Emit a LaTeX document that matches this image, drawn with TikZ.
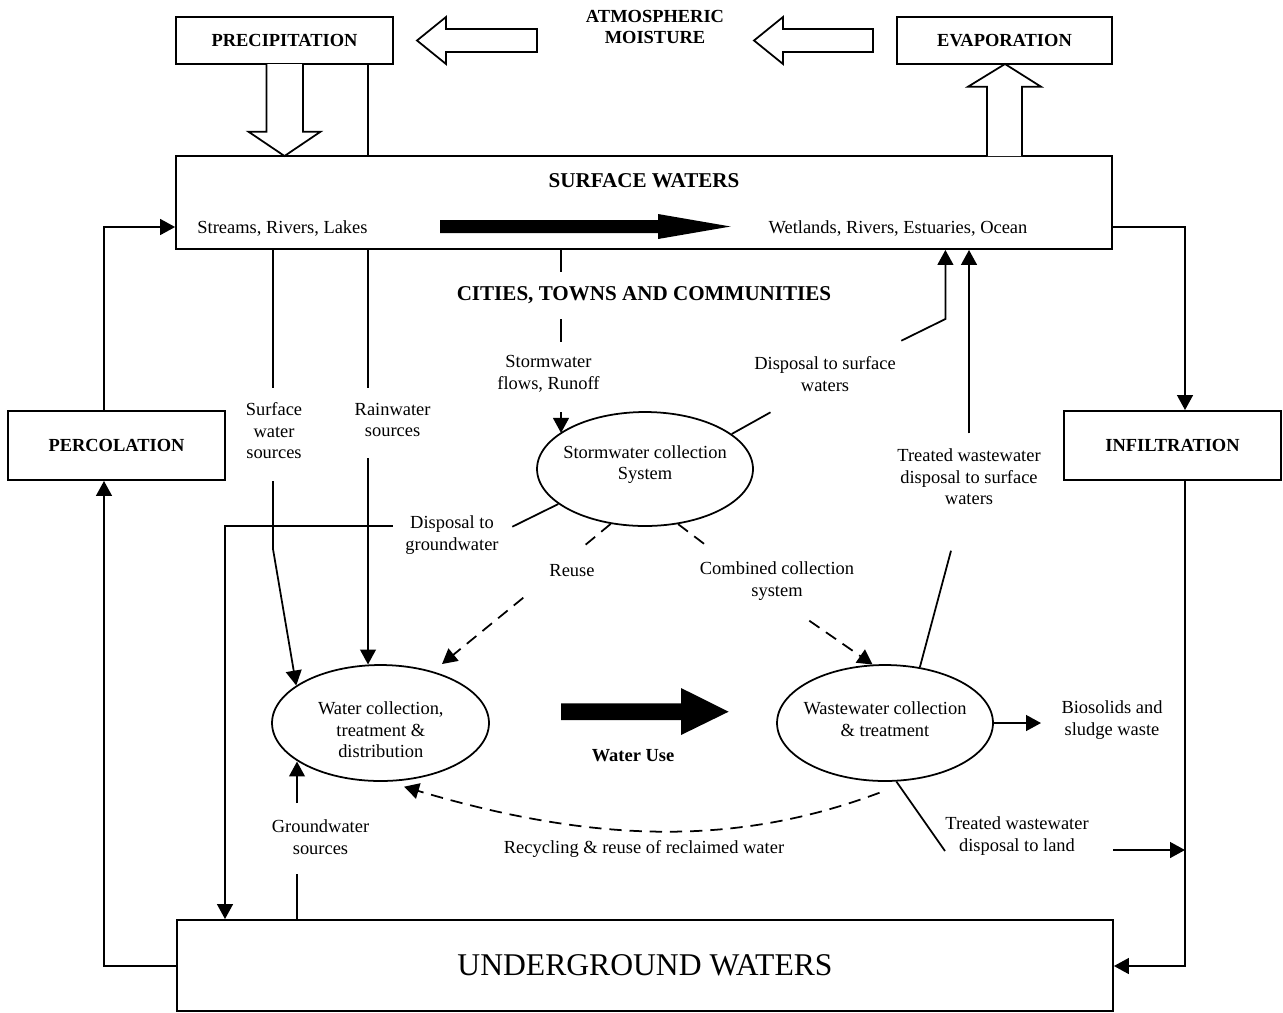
\documentclass[tikz,border=0pt]{standalone}
\usepackage{fontspec}
\setmainfont{Liberation Serif}
\usetikzlibrary{arrows.meta,shapes.geometric}

\tikzset{
  flow/.style={line width=1pt,-{Triangle[length=8.5pt,width=9pt]}},
  plain/.style={line width=1pt},
  dashflow/.style={line width=1pt,dash pattern=on 7pt off 4.5pt,-{Triangle[length=8.5pt,width=9pt]}},
  dashplain/.style={line width=1pt,dash pattern=on 7pt off 4.5pt},
  boxframe/.style={draw,line width=1.1pt,inner sep=0pt,align=center},
  cell/.style={draw,ellipse,line width=1pt,inner sep=0pt},
  lbl/.style={align=center,inner sep=0pt,font=\fontsize{10.5}{12.2}\selectfont},
  hd/.style={align=center,inner sep=0pt,font=\fontsize{10.5}{12.3}\selectfont\bfseries},
  hdl/.style={align=center,inner sep=0pt,font=\fontsize{12}{14}\selectfont\bfseries},
  hollow/.style={draw,line width=1pt,fill=white,line join=miter},
}

\begin{document}
\begin{tikzpicture}[x=0.02cm,y=-0.02cm]
\useasboundingbox (0,0) rectangle (1283,1012);

% ---------- boxes ----------
\node[boxframe,minimum width=4.34cm,minimum height=0.94cm,font=\fontsize{10.5}{12}\selectfont\bfseries] (precip) at (284.5,40.5) {PRECIPITATION};
\node[boxframe,minimum width=4.30cm,minimum height=0.94cm,font=\fontsize{10.5}{12}\selectfont\bfseries] (evap) at (1004.5,40.5) {EVAPORATION};
\node[boxframe,minimum width=18.72cm,minimum height=1.86cm] (surf) at (644,202.5) {};
\node[boxframe,minimum width=4.34cm,minimum height=1.38cm,font=\fontsize{10.5}{12}\selectfont\bfseries] (perc) at (116.5,445.5) {PERCOLATION};
\node[boxframe,minimum width=4.34cm,minimum height=1.38cm,font=\fontsize{10.5}{12}\selectfont\bfseries] (infil) at (1172.5,445.5) {INFILTRATION};
\node[boxframe,minimum width=18.72cm,minimum height=1.82cm,font=\fontsize{18}{20}\selectfont] (under) at (645,965.5) {UNDERGROUND WATERS};

% ---------- atmosphere ----------
\node[hd] (atm) at (655,27) {ATMOSPHERIC\\MOISTURE};
\draw[hollow] (417,40.5) -- (446,17) -- (446,29) -- (537,29) -- (537,52) -- (446,52) -- (446,64) -- cycle;
\draw[hollow] (754,40.5) -- (783,17) -- (783,29) -- (873,29) -- (873,52) -- (783,52) -- (783,64) -- cycle;
\draw[hollow] (266.5,64) -- (266.5,131.7) -- (248.5,131.7) -- (284.5,156) -- (320.5,131.7) -- (303,131.7) -- (303,64);
\draw[hollow] (987,156) -- (987,86.7) -- (968,86.7) -- (1005,64) -- (1041,86.7) -- (1022,86.7) -- (1022,156);
\coordinate (pv) at (368,0);
\draw[plain] (pv |- precip.south) -- (pv |- surf.north);

% ---------- surface waters ----------
\node[hdl] (swt) at (644,181) {SURFACE WATERS};
\node[lbl] (srl) at (282.5,229) {Streams, Rivers, Lakes};
\node[lbl] (wreo) at (898,229) {Wetlands, Rivers, Estuaries, Ocean};
\fill (440,220) -- (658,220) -- (658,214) -- (730.6,226.5) -- (658,239) -- (658,233) -- (440,233) -- cycle;
\node[hdl] (city) at (644,295) {CITIES, TOWNS AND COMMUNITIES};

% ---------- side loops ----------
\coordinate (pl) at (104,0);
\coordinate (il) at (1185,0);
\coordinate (yS) at (0,227);
\coordinate (yU) at (0,966);
\draw[flow] (pl |- perc.north) |- (surf.west |- yS);
\draw[flow] (under.west |- yU) -| (pl |- perc.south);
\draw[flow] (surf.east |- yS) -| (il |- infil.north);
\draw[flow] (il |- infil.south) |- (under.east |- yU);

% ---------- process ellipses ----------
\node[cell,minimum width=4.32cm,minimum height=2.28cm] (sw) at (645,469) {};
\node[lbl] (swtxt) at (645,464.5) {Stormwater collection\\System};
\node[cell,minimum width=4.34cm,minimum height=2.32cm] (wc) at (380.5,723) {};
\node[lbl] (wctxt) at (380.8,730) {Water collection,\\treatment \&\\distribution};
\node[cell,minimum width=4.32cm,minimum height=2.32cm] (ww) at (885,723) {};
\node[lbl] (wwtxt) at (885,719) {Wastewater collection\\\& treatment};

% ---------- stormwater runoff ----------
\coordinate (ro) at (561,0);
\coordinate (roA) at (561,272);
\coordinate (roB) at (561,319);
\coordinate (roC) at (561,342);
\coordinate (roD) at (561,412);
\draw[plain] (ro |- surf.south) -- (roA);
\draw[plain] (roB) -- (roC);
\node[lbl] (rotxt) at (548.5,374) {Stormwater\\flows, Runoff};
\draw[flow] (roD) -- (ro |- sw.157);

% ---------- disposal to surface waters ----------
\coordinate (dsA) at (770.5,412.3);
\coordinate (dsB) at (901.3,340.7);
\coordinate (dsC) at (945.4,319);
\draw[plain] (sw.22.9) -- (dsA);
\node[lbl] (dstxt) at (825,374) {Disposal to surface\\waters};
\draw[flow] (dsB) -- (dsC) -- (dsC |- surf.south);

% ---------- treated wastewater to surface waters ----------
\coordinate (twA) at (951,550.7);
\coordinate (twB) at (969,433.3);
\draw[plain] (ww.58) -- (twA);
\node[lbl] (twstxt) at (969,477) {Treated wastewater\\disposal to surface\\waters};
\draw[flow] (twB) -- (twB |- surf.south);

% ---------- surface water and rainwater sources ----------
\coordinate (swsA) at (273,388);
\coordinate (swsB) at (273,481);
\coordinate (swsC) at (273,549);
\draw[plain] (swsA |- surf.south) -- (swsA);
\node[lbl] (swstxt) at (274,431) {Surface\\water\\sources};
\draw[flow] (swsB) -- (swsC) -- (wc.156.2);
\coordinate (rwA) at (368,388);
\coordinate (rwB) at (368,458);
\draw[plain] (rwA |- surf.south) -- (rwA);
\node[lbl] (rwtxt) at (392.6,420) {Rainwater\\sources};
\draw[flow] (rwB) -- (rwB |- wc.101.7);

% ---------- disposal to groundwater ----------
\coordinate (dgA) at (512.3,526.7);
\coordinate (dgB) at (392.6,526);
\coordinate (dgC) at (225,526);
\draw[plain] (sw.202.2) -- (dgA);
\node[lbl] (dgtxt) at (452,535) {Disposal to\\groundwater};
\draw[flow] (dgB) -- (dgC) -- (dgC |- under.north);

% ---------- reuse and combined collection ----------
\coordinate (reA) at (580,549.3);
\coordinate (reB) at (523.3,597.7);
\coordinate (reC) at (442,664);
\draw[dashplain] (sw.238.3) -- (reA);
\node[lbl] (reuse) at (572,571) {Reuse};
\draw[dashflow] (reB) -- (reC);
\coordinate (ccA) at (710,548.3);
\coordinate (ccB) at (809.3,620.7);
\draw[dashplain] (sw.301.2) -- (ccA);
\node[lbl] (comb) at (777,581) {Combined collection\\system};
\draw[dashflow] (ccB) -- (ww.102.7);

% ---------- water use ----------
\fill (561,703.3) -- (681,703.3) -- (681,688) -- (728.6,711.7) -- (681,735) -- (681,720) -- (561,720) -- cycle;
\node[hd] (wuse) at (633,756) {Water Use};

% ---------- biosolids ----------
\coordinate (bioT) at (1041,723);
\draw[flow] (ww.east) -- (bioT);
\node[lbl] (bio) at (1112,720) {Biosolids and\\sludge waste};

% ---------- groundwater sources ----------
\coordinate (gwA) at (297,803);
\coordinate (gwB) at (297,874);
\draw[flow] (gwA) -- (gwA |- wc.205);
\node[lbl] (gwtxt) at (320.5,837) {Groundwater\\sources};
\draw[plain] (gwB) -- (gwB |- under.north);

% ---------- recycling ----------
\coordinate (rcA) at (879.5,792.7);
\coordinate (rcB) at (404,786.7);
\draw[dashflow] (rcA) .. controls (740,845) and (600,845) .. (rcB);
\node[lbl] (rctxt) at (644,849) {Recycling \& reuse of reclaimed water};

% ---------- treated wastewater to land ----------
\coordinate (ldA) at (945,851);
\coordinate (ldB) at (1113,850);
\draw[plain] (ww.281.6) -- (ldA);
\node[lbl] (ldtxt) at (1017,836) {Treated wastewater\\disposal to land};
\draw[flow] (ldB) -- (il |- ldB);
\end{tikzpicture}
\end{document}
